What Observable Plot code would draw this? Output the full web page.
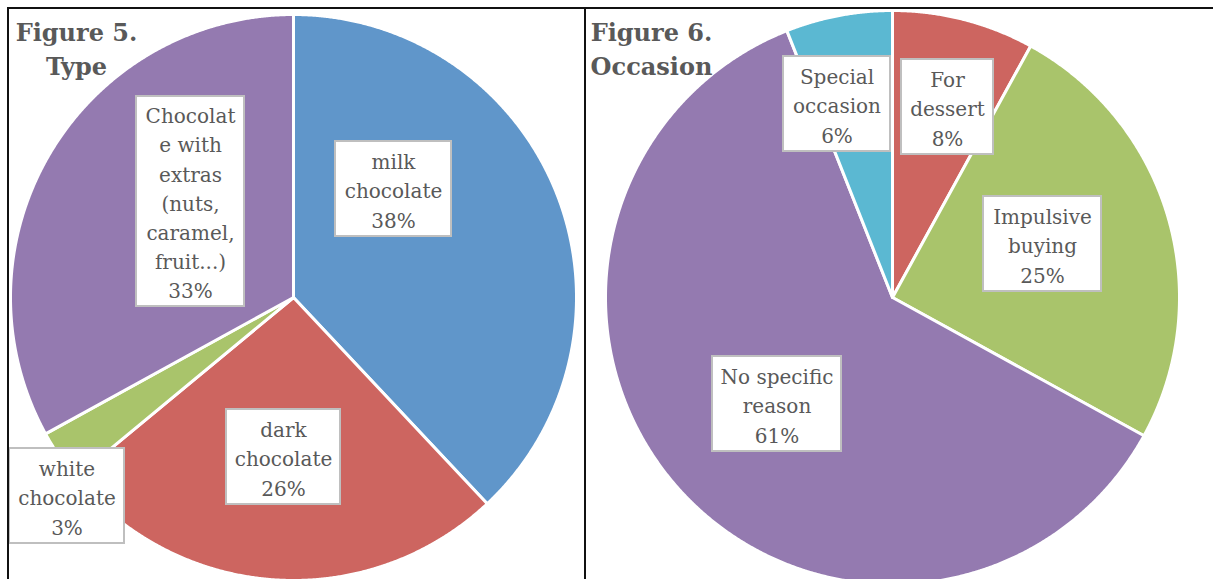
<!DOCTYPE html>
<html><head><meta charset="utf-8">
<script src="https://cdn.jsdelivr.net/npm/d3@7"></script>
<script src="https://cdn.jsdelivr.net/npm/@observablehq/plot@0.6"></script>
<style>html,body{margin:0;padding:0;overflow:hidden;background:#fff}</style>
</head><body><div id="chart"></div>
<script>
// ---- data ----
const typeCategories = ["milk chocolate", "dark chocolate", "white chocolate", "Chocolate with extras (nuts, caramel, fruit...)"];
const typeValues = [38, 26, 3, 33];
const typeLabelLines = [["milk", "chocolate"], ["dark", "chocolate"], ["white", "chocolate"], ["Chocolat", "e with", "extras", "(nuts,", "caramel,", "fruit...)"]];

const occasionCategories = ["For dessert", "Impulsive buying", "No specific reason", "Special occasion"];
const occasionValues = [8, 25, 61, 6];
const occasionLabelLines = [["For", "dessert"], ["Impulsive", "buying"], ["No specific", "reason"], ["Special", "occasion"]];

const titles = [["Figure 5.", "Type"], ["Figure 6.", "Occasion"]];

// ---- styles ----
const typeColors = ["#6096CA", "#CD6560", "#A9C46B", "#947AB0"];
const occasionColors = ["#CD6560", "#A9C46B", "#947AB0", "#5BB8D2"];
const textColor = "#595959";
const serif = "DejaVu Serif, Liberation Serif, serif";

// ---- layout ----
const W = 1213, H = 579;
const panels = [
  {cats: typeCategories, values: typeValues, lines: typeLabelLines, colors: typeColors, title: titles[0],
   titleX: 76, cx: 293, cy: 297, r: 283,
   boxes: [[335, 451, 141, 236], [226, 340, 409, 504], [9, 124, 448, 543], [136, 244, 96, 306]]},
  {cats: occasionCategories, values: occasionValues, lines: occasionLabelLines, colors: occasionColors, title: titles[1],
   titleX: 651, cx: 892, cy: 297, r: 287,
   boxes: [[901, 993, 59, 154], [983, 1101, 196, 291], [712, 841, 356, 451], [783, 890, 56, 151]]}
];

const marks = [];
const step = Math.PI / 720;
for (const p of panels) {
  const arcs = d3.pie().sort(null).value(d => d)(p.values);
  arcs.forEach((a, i) => {
    const pts = [{x: p.cx, y: p.cy}];
    const n = Math.max(2, Math.ceil((a.endAngle - a.startAngle) / step));
    for (let k = 0; k <= n; k++) {
      const t = a.startAngle + (a.endAngle - a.startAngle) * k / n;
      pts.push({x: p.cx + p.r * Math.sin(t), y: p.cy - p.r * Math.cos(t)});
    }
    pts.push({x: p.cx, y: p.cy});
    marks.push(Plot.line(pts, {x: "x", y: "y", fill: p.colors[i], stroke: "white", strokeWidth: 3, strokeLinejoin: "round"}));
  });
  const labels = p.cats.map((c, i) => ({
    cat: c,
    text: p.lines[i].join("\n") + "\n" + p.values[i] + "%",
    x1: p.boxes[i][0], x2: p.boxes[i][1], y1: p.boxes[i][2], y2: p.boxes[i][3]
  }));
  marks.push(Plot.rect(labels, {x1: "x1", x2: "x2", y1: "y1", y2: "y2", fill: "white", stroke: "#BFBFBF", strokeWidth: 2}));
  marks.push(Plot.text(labels, {x: d => (d.x1 + d.x2) / 2, y: d => (d.y1 + d.y2) / 2, text: "text",
    fill: textColor, fontSize: 20, fontFamily: serif, lineHeight: 1.46}));
  marks.push(Plot.text([p.title[0]], {x: () => p.titleX, y: () => 33, text: d => d, fill: textColor, fontSize: 24, fontWeight: "bold", fontFamily: serif}));
  marks.push(Plot.text([p.title[1]], {x: () => p.titleX, y: () => 67, text: d => d, fill: textColor, fontSize: 24, fontWeight: "bold", fontFamily: serif}));
}
// panel borders
marks.push(Plot.ruleY([7.5], {x1: 7, x2: W, stroke: "#111", strokeWidth: 2}));
marks.push(Plot.ruleX([7.5, 584.5], {y1: 7, y2: H, stroke: "#111", strokeWidth: 2}));

const chart = Plot.plot({
  width: W, height: H,
  margin: 0,
  x: {domain: [0, W], range: [0, W], axis: null},
  y: {domain: [0, H], range: [0, H], axis: null},
  style: {background: "white", overflow: "hidden"},
  marks
});
document.getElementById("chart").append(chart);
</script>
</body></html>
